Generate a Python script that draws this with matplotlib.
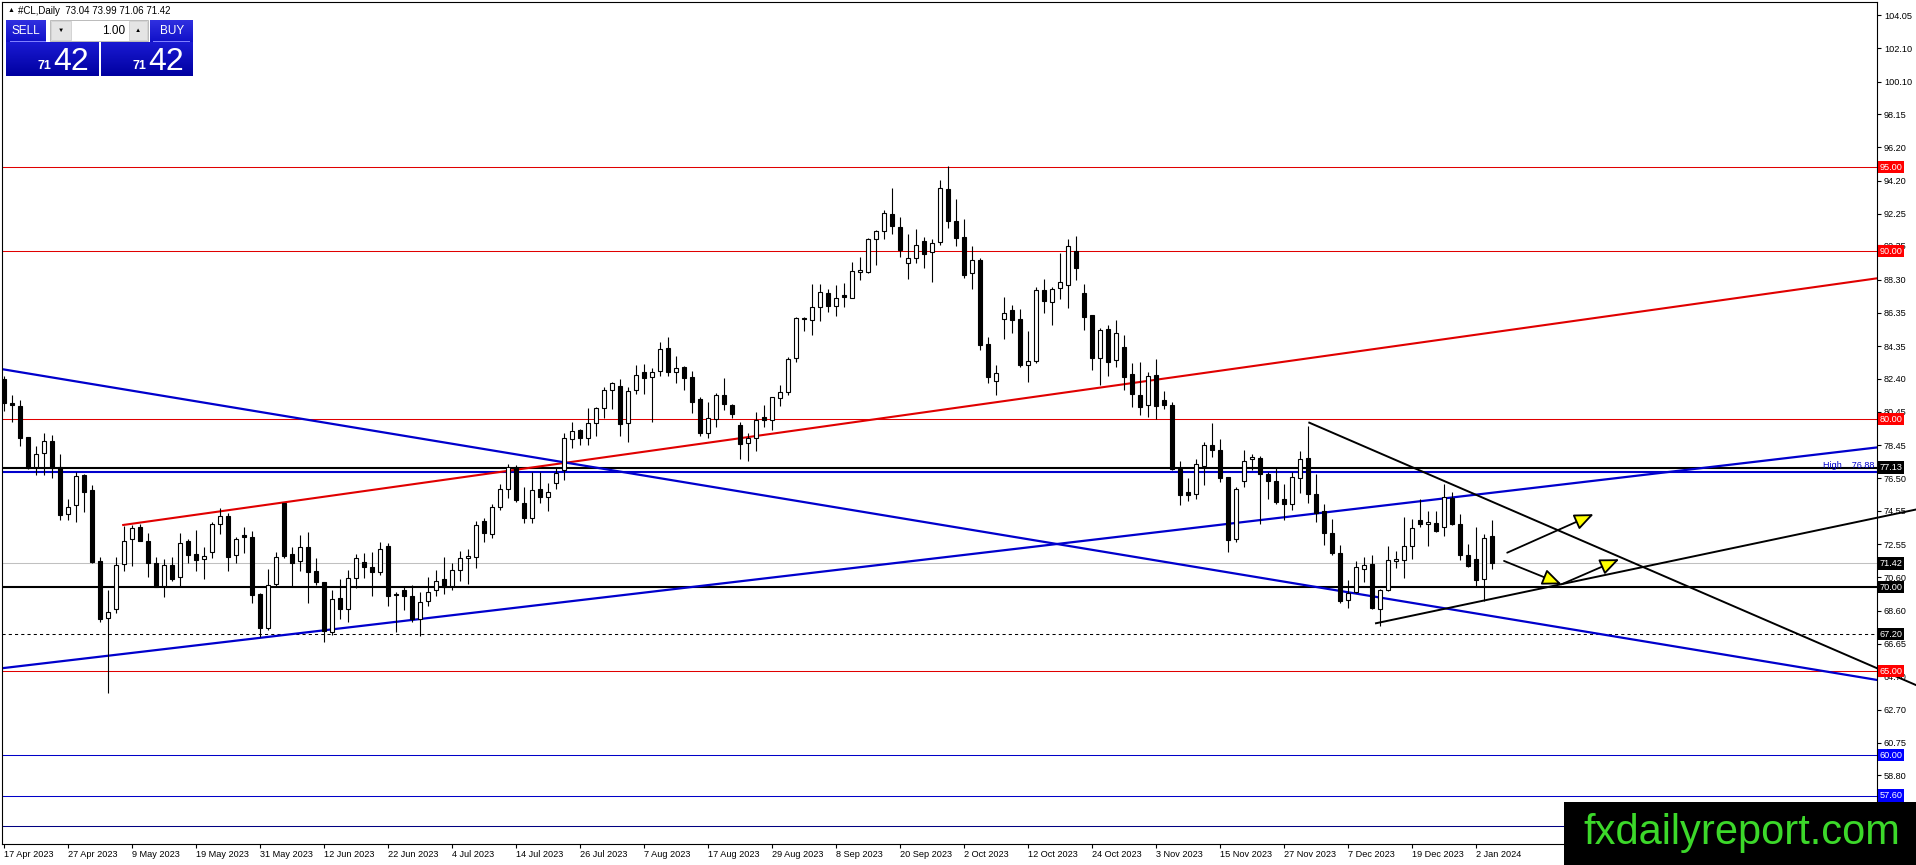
import matplotlib
matplotlib.use("Agg")
import matplotlib.pyplot as plt
import numpy as np
from matplotlib.patches import Rectangle, FancyArrowPatch
from matplotlib.transforms import blended_transform_factory

plt.rcParams['font.family'] = ['Liberation Sans', 'DejaVu Sans']

# ---------------- data ----------------
opens = [82.4, 80.95, 80.79, 78.93, 77.18, 77.98, 78.71, 77.14, 74.37, 74.90,
         76.69, 75.79, 71.59, 68.15, 68.69, 71.37, 72.86, 73.57, 72.76, 71.43,
         70.08, 71.31, 70.60, 72.76, 71.98, 71.67, 72.10, 73.77, 74.25, 71.92,
         73.10, 72.98, 69.58, 67.60, 70.20, 75.00, 71.96, 71.57, 72.42, 70.97,
         70.30, 67.36, 69.35, 68.69, 70.54, 71.49, 71.19, 70.89, 72.46, 69.60,
         69.84, 69.48, 68.10, 69.21, 69.84, 70.48, 70.08, 71.03, 71.77, 71.83,
         73.95, 73.15, 74.80, 75.83, 77.18, 75.00, 74.11, 75.83, 75.36, 76.19,
         76.98, 78.81, 79.37, 78.87, 79.76, 80.65, 81.75, 82.00, 79.76, 81.75,
         82.82, 82.50, 82.88, 84.23, 82.80, 83.10, 82.50, 81.19, 79.21, 80.02,
         81.43, 80.85, 79.66, 78.57, 78.87, 80.12, 79.96, 81.25, 81.64, 83.64,
         86.02, 85.90, 86.70, 87.54, 86.74, 87.42, 87.24, 88.74, 88.78, 90.74,
         91.20, 92.22, 91.44, 89.28, 89.58, 90.60, 89.94, 90.54, 93.72, 91.82,
         90.84, 88.68, 89.46, 84.50, 82.26, 85.98, 86.48, 85.98, 83.22, 83.48,
         87.72, 87.00, 87.84, 88.00, 90.04, 87.49, 86.19, 83.63, 85.39, 83.51,
         84.33, 82.71, 81.46, 80.88, 82.65, 81.16, 80.84, 77.07, 75.65, 75.55,
         77.21, 78.50, 78.16, 76.57, 72.87, 76.33, 77.61, 77.72, 76.73, 76.31,
         75.27, 74.95, 76.53, 77.71, 75.53, 74.57, 73.26, 72.05, 69.24, 69.70,
         71.09, 71.39, 68.71, 69.84, 71.55, 71.63, 72.47, 74.02, 73.76, 73.84,
         73.58, 75.33, 73.78, 71.93, 71.69, 70.50, 73.04]
highs = [82.6, 81.45, 81.15, 78.95, 78.41, 79.17, 79.07, 77.92, 75.24, 76.88,
         76.75, 76.09, 71.79, 69.84, 71.79, 73.67, 73.71, 73.77, 73.25, 71.79,
         71.67, 71.79, 73.25, 72.88, 73.41, 72.38, 73.91, 74.70, 74.40, 73.02,
         73.57, 73.37, 69.68, 71.07, 72.12, 75.04, 72.42, 73.12, 73.32, 71.77,
         70.30, 69.84, 70.50, 71.03, 71.98, 72.02, 72.12, 72.72, 72.66, 69.70,
         70.08, 70.12, 69.70, 70.60, 71.03, 71.79, 71.43, 72.18, 72.30, 73.95,
         74.11, 74.96, 76.15, 77.34, 77.28, 76.00, 76.88, 76.88, 76.19, 77.18,
         79.21, 79.86, 79.40, 80.65, 80.71, 81.94, 82.22, 82.38, 81.94, 83.21,
         83.29, 83.04, 84.62, 84.88, 83.77, 83.17, 82.88, 81.35, 81.05, 81.55,
         82.44, 80.91, 79.86, 79.17, 80.42, 80.85, 81.35, 82.04, 83.68, 86.06,
         86.10, 88.04, 88.08, 87.74, 87.98, 88.14, 89.34, 89.64, 90.80, 91.28,
         92.44, 93.78, 92.04, 91.04, 91.34, 90.84, 90.74, 94.22, 95.10, 93.14,
         91.94, 90.30, 89.58, 84.90, 83.24, 87.28, 86.80, 86.54, 85.24, 87.88,
         88.34, 87.90, 89.90, 90.74, 90.94, 88.04, 86.19, 85.45, 85.59, 85.89,
         84.99, 83.35, 83.43, 82.79, 83.59, 81.66, 81.04, 77.50, 76.50, 77.66,
         78.62, 79.80, 78.80, 76.57, 75.97, 78.16, 77.96, 77.80, 76.87, 77.17,
         76.17, 76.87, 78.10, 79.58, 76.72, 74.97, 74.08, 72.52, 70.44, 71.59,
         71.79, 71.95, 69.90, 72.43, 72.15, 74.21, 74.08, 75.27, 74.57, 74.57,
         76.12, 75.67, 74.37, 72.58, 73.58, 73.18, 73.99]
lows = [80.5, 79.86, 78.43, 77.02, 76.69, 76.69, 76.49, 74.01, 74.01, 73.91,
        74.50, 71.43, 67.96, 63.69, 68.49, 70.99, 71.27, 72.76, 70.63, 70.00,
        69.40, 70.40, 70.08, 71.43, 70.99, 70.48, 71.73, 73.17, 70.99, 71.47,
        72.02, 69.05, 67.06, 67.46, 70.04, 71.73, 70.04, 70.99, 69.05, 70.14,
        66.77, 67.16, 68.10, 67.96, 69.94, 70.54, 69.50, 70.73, 68.89, 67.36,
        68.65, 67.96, 67.10, 68.89, 69.48, 69.62, 69.84, 70.40, 70.20, 71.17,
        72.72, 72.96, 74.60, 75.30, 75.10, 73.81, 73.85, 75.04, 74.56, 75.85,
        76.39, 78.27, 78.47, 78.47, 79.03, 80.10, 80.60, 79.03, 78.67, 81.51,
        81.49, 79.86, 82.58, 82.58, 82.18, 81.75, 80.36, 79.01, 78.91, 79.56,
        80.56, 80.06, 77.62, 77.54, 78.12, 79.56, 79.37, 80.79, 81.44, 83.44,
        85.24, 85.00, 85.88, 86.38, 86.14, 86.68, 87.20, 88.30, 88.68, 89.18,
        90.74, 91.04, 89.68, 88.38, 89.30, 89.00, 88.18, 90.40, 91.40, 90.34,
        88.40, 87.74, 84.10, 82.14, 81.46, 84.80, 85.14, 83.10, 82.24, 83.34,
        86.34, 85.59, 87.19, 86.65, 88.28, 85.29, 82.91, 82.06, 82.55, 83.09,
        81.76, 80.72, 80.26, 80.16, 80.02, 80.62, 77.01, 74.87, 75.11, 75.23,
        76.11, 77.76, 76.27, 72.08, 72.67, 75.97, 76.97, 73.77, 75.27, 74.97,
        74.01, 74.61, 75.61, 75.01, 73.88, 72.54, 71.95, 69.05, 68.77, 69.64,
        70.30, 68.71, 67.71, 69.80, 71.15, 70.56, 71.69, 73.58, 72.43, 73.28,
        73.08, 73.68, 71.65, 71.19, 70.04, 69.20, 71.06]
closes = [81.0, 80.85, 78.91, 77.08, 77.92, 78.71, 77.08, 74.33, 74.80, 76.63,
          75.69, 71.49, 68.13, 68.55, 71.31, 72.78, 73.51, 72.78, 71.43, 70.04,
          71.31, 70.52, 72.62, 71.90, 71.63, 71.86, 73.77, 74.25, 71.79, 72.86,
          73.02, 69.54, 67.56, 70.14, 71.83, 71.87, 71.43, 72.42, 70.93, 70.30,
          67.40, 69.29, 68.69, 70.54, 71.77, 71.23, 70.93, 72.30, 69.50, 69.56,
          69.50, 68.10, 69.15, 69.74, 70.40, 70.04, 71.03, 71.77, 71.88, 73.69,
          73.21, 74.80, 75.83, 77.18, 75.20, 74.11, 75.79, 75.36, 75.65, 76.83,
          78.87, 79.31, 78.91, 79.76, 80.65, 81.75, 82.14, 79.70, 81.69, 82.62,
          82.44, 82.80, 84.17, 82.84, 83.04, 82.44, 81.05, 79.21, 80.06, 81.43,
          80.89, 80.30, 78.51, 78.91, 79.96, 79.96, 81.31, 81.65, 83.58, 86.04,
          85.98, 86.70, 87.58, 86.74, 87.24, 87.30, 88.80, 88.86, 90.74, 91.22,
          92.30, 91.50, 90.10, 89.58, 90.36, 89.86, 90.52, 93.78, 91.80, 90.78,
          88.60, 89.46, 84.40, 82.50, 82.74, 86.34, 85.90, 83.26, 83.46, 87.72,
          87.04, 87.74, 88.20, 90.34, 89.00, 86.09, 83.63, 85.29, 83.43, 85.15,
          82.49, 81.48, 80.76, 82.59, 80.82, 80.88, 77.05, 75.49, 75.49, 77.31,
          78.50, 78.20, 76.51, 72.83, 75.83, 77.49, 77.78, 76.75, 76.33, 75.07,
          74.95, 76.55, 77.65, 75.57, 74.41, 73.22, 72.03, 69.16, 69.66, 71.23,
          71.33, 68.77, 69.84, 71.63, 71.71, 72.47, 73.54, 73.76, 73.90, 73.38,
          75.37, 73.74, 71.95, 71.25, 70.44, 72.94, 71.42]

date_labels = ["17 Apr 2023", "27 Apr 2023", "9 May 2023", "19 May 2023", "31 May 2023",
               "12 Jun 2023", "22 Jun 2023", "4 Jul 2023", "14 Jul 2023", "26 Jul 2023",
               "7 Aug 2023", "17 Aug 2023", "29 Aug 2023", "8 Sep 2023", "20 Sep 2023",
               "2 Oct 2023", "12 Oct 2023", "24 Oct 2023", "3 Nov 2023", "15 Nov 2023",
               "27 Nov 2023", "7 Dec 2023", "19 Dec 2023", "2 Jan 2024"]
date_positions = list(range(0, 8 * len(date_labels), 8))

price_ticks = ["104.05", "102.10", "100.10", "98.15", "96.20", "94.20", "92.25", "90.35",
               "88.30", "86.35", "84.35", "82.40", "80.45", "78.45", "76.50", "74.55",
               "72.55", "70.60", "68.60", "66.65", "64.70", "62.70", "60.75", "58.80", "56.85"]

red_levels = [95.0, 90.0, 80.0, 65.0]
blue_levels = [60.0, 57.60]
black_levels = [77.13, 70.00]
dashed_level = 67.20
navy_level = 55.8
high_level = 76.88
bid = closes[-1]

# trendlines: (bar0, price0, bar1, price1)
red_trend = (14.9, 73.71, 234.1, 88.39)
blue_down = (-0.3, 82.99, 234.2, 64.48)
blue_up = (-0.3, 65.18, 234.2, 78.33)
black_down = (163.16, 79.80, 239.0, 64.18)
black_up = (171.5, 67.86, 239.0, 74.63)
arrows = [(187.9, 72.06, 198.7, 74.35),
          (187.5, 71.57, 194.7, 70.18),
          (194.7, 70.18, 201.9, 71.67)]

# ---------------- figure ----------------
W, H = 1916, 865
fig = plt.figure(figsize=(W / 100, H / 100), dpi=100)
fig.patch.set_facecolor('white')


def frect(x0, y0, x1, y1):
    return [x0 / W, 1 - y1 / H, (x1 - x0) / W, (y1 - y0) / H]


ax = fig.add_axes(frect(2, 2, 1877, 844))
ax.set_xlim(-0.25, 234.125)
ax.set_ylim(54.72, 104.84)
for s in ax.spines.values():
    s.set_color('black')
    s.set_linewidth(0.8)

n = len(closes)
idx = np.arange(n)
o = np.array(opens); h = np.array(highs); l = np.array(lows); c = np.array(closes)
bull = c >= o

# horizontal levels
for lv in red_levels:
    ax.axhline(lv, color='#e00000', lw=0.75, zorder=1)
for lv in blue_levels:
    ax.axhline(lv, color='#0000c8', lw=0.75, zorder=1)
ax.axhline(navy_level, color='#000080', lw=0.75, zorder=1)
ax.axhline(bid, color='#c0c0c0', lw=0.75, zorder=1)
ax.axhline(dashed_level, color='black', lw=0.75, ls=(0, (3, 3)), zorder=1)
ax.axhline(high_level, color='#0000cc', lw=1.5, zorder=1)
for lv in black_levels:
    ax.axhline(lv, color='black', lw=1.5, zorder=1)

# trendlines
ax.plot(red_trend[0::2], red_trend[1::2], color='#e00000', lw=1.5, zorder=2)
ax.plot(blue_down[0::2], blue_down[1::2], color='#0000cc', lw=1.6, zorder=2)
ax.plot(blue_up[0::2], blue_up[1::2], color='#0000cc', lw=1.6, zorder=2)
ax.plot(black_down[0::2], black_down[1::2], color='black', lw=1.4, zorder=2, clip_on=False)
ax.plot(black_up[0::2], black_up[1::2], color='black', lw=1.4, zorder=2, clip_on=False)

# candles
ax.vlines(idx, l, h, color='black', lw=0.8, zorder=3)
bottoms = np.minimum(o, c)
heights = np.maximum(np.abs(c - o), 0.04)
ax.bar(idx, heights, bottom=bottoms, width=0.58,
       color=np.where(bull, 'white', 'black'), edgecolor='black', linewidth=0.8, zorder=4)

# arrows
for (x0, y0, x1, y1) in arrows:
    ax.add_patch(FancyArrowPatch((x0, y0), (x1, y1),
                                 arrowstyle='-|>,head_length=1.3,head_width=0.55',
                                 mutation_scale=9, fc='#ffff00', ec='black', lw=1.3,
                                 shrinkA=0, shrinkB=0, zorder=5, clip_on=False))

# "High" label
ax.text(233.8, high_level + 0.08, "High    " + f"{high_level:.2f}", ha='right', va='bottom',
        color='#0000cc', fontsize=6.5, zorder=6)

# axes ticks
ax.yaxis.tick_right()
vals = [float(t) for t in price_ticks]
ax.set_yticks(vals)
ax.set_yticklabels(price_ticks)
ax.tick_params(axis='y', which='both', direction='out', length=3, width=0.8, pad=2,
               labelsize=6.6, colors='black')
ax.set_xticks(date_positions)
ax.set_xticklabels(date_labels, ha='left')
ax.tick_params(axis='x', direction='out', length=3, width=0.8, pad=1.5, labelsize=6.6)

# tag boxes on price axis
tr = blended_transform_factory(ax.transAxes, ax.transData)
xt = 1.0014
tags = [(lv, '#ff0000') for lv in red_levels] + [(lv, '#0000ff') for lv in blue_levels] + \
       [(black_levels[0], 'black'), (bid, 'black'), (black_levels[1], 'black'), (dashed_level, 'black')]
for lv, col in tags:
    ax.text(xt, lv, f"{lv:.2f}", transform=tr, ha='left', va='center', fontsize=6.6,
            color='white', clip_on=False, zorder=10,
            bbox=dict(boxstyle='square,pad=0.18', fc=col, ec=col, lw=0))

# header
fig.text(8 / W, 1 - 10.5 / H, "▲", fontsize=5, va='center', ha='left', color='black')
fig.text(18 / W, 1 - 10.5 / H,
         f"#CL,Daily  {opens[-1]:.2f} {highs[-1]:.2f} {lows[-1]:.2f} {closes[-1]:.2f}",
         fontsize=7, va='center', ha='left', color='black')


def grad_box(x0, y0, x1, y1, top, bottom):
    a = fig.add_axes(frect(x0, y0, x1, y1))
    t = np.array(matplotlib.colors.to_rgb(top))
    b = np.array(matplotlib.colors.to_rgb(bottom))
    g = np.linspace(0, 1, 64)[:, None, None]
    img = t * (1 - g) + b * g
    img = np.repeat(img, 2, axis=1)
    a.imshow(img, aspect='auto', interpolation='bilinear')
    a.set_axis_off()
    return a


grad_box(6, 20, 46, 42, '#3030e0', '#1010c8')
grad_box(150, 20, 193, 42, '#3030e0', '#1010c8')
grad_box(6, 42, 99, 76, '#1a1ad2', '#0000a0')
grad_box(101, 42, 193, 76, '#1a1ad2', '#0000a0')
for (x0, x1) in [(10, 46), (153, 190)]:
    fig.add_artist(Rectangle((x0 / W, 1 - 41.5 / H), (x1 - x0) / W, 0.8 / H,
                             transform=fig.transFigure, fc='#8080ff', ec='none', zorder=2))
fig.text(26 / W, 1 - 31 / H, "SELL", color='white', fontsize=8.5, ha='center', va='center')
fig.text(172 / W, 1 - 31 / H, "BUY", color='white', fontsize=8.5, ha='center', va='center')
# lot control
fig.add_artist(Rectangle((50 / W, 1 - 41 / H), 98 / W, 21 / H, transform=fig.transFigure,
                         fc='white', ec='#b0b0b0', lw=0.6, zorder=2))
for (x0, x1, sym) in [(51, 71, "▼"), (129, 147, "▲")]:
    fig.add_artist(Rectangle((x0 / W, 1 - 40 / H), (x1 - x0) / W, 19 / H,
                             transform=fig.transFigure, fc='#e4e4e4', ec='#c8c8c8', lw=0.5, zorder=2))
    fig.text((x0 + x1) / 2 / W, 1 - 30.5 / H, sym, fontsize=4.5, ha='center', va='center',
             color='black', zorder=4)
fig.text(125 / W, 1 - 30.5 / H, "1.00", fontsize=8.5, ha='right', va='center', color='black')
big = f"{bid:.2f}"
p1, p2 = big.split('.')
for xb in [6, 101]:
    fig.text((xb + 45) / W, 1 - 69 / H, p1, color='white', fontsize=9, fontweight='bold',
             ha='right', va='baseline')
    fig.text((xb + 47) / W, 1 - 69.5 / H, p2, color='white', fontsize=23,
             ha='left', va='baseline')

# logo
fig.add_artist(Rectangle((1564 / W, 0), (W - 1564) / W, (H - 802) / H,
                         transform=fig.transFigure, fc='black', ec='none', zorder=20))
fig.text(1742 / W, 1 - 844 / H, "fxdailyreport.com", color='#3cd82a', fontsize=30,
         ha='center', va='baseline', zorder=21)

fig.savefig("out.png", dpi=100, facecolor='white')
